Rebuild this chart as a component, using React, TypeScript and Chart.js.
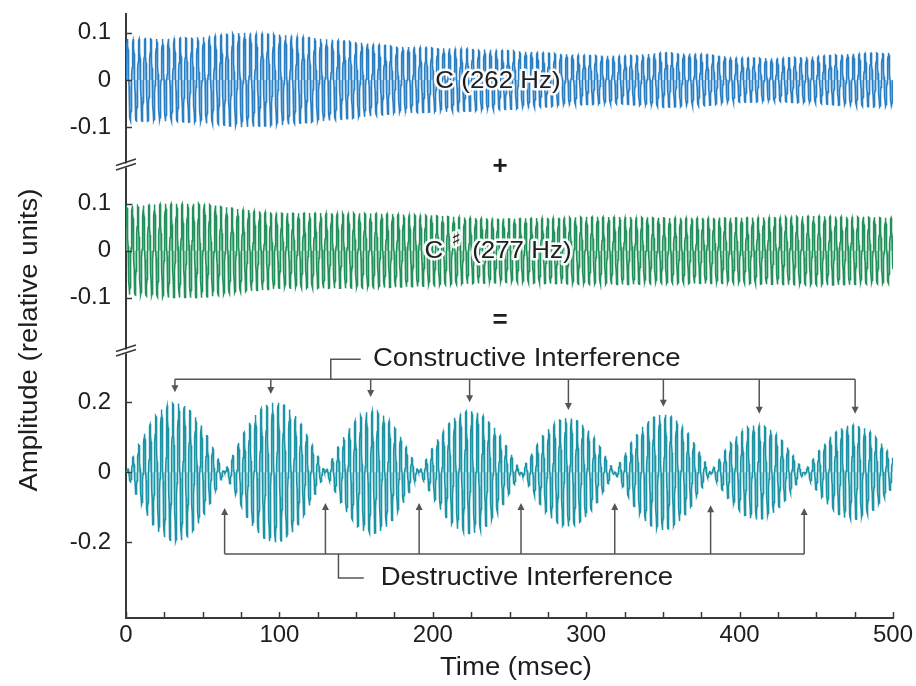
import React, { useEffect, useRef } from 'react';
import { Chart, registerables } from 'chart.js';

Chart.register(...registerables);

// ---------------- data ----------------
const X_TICK_LABELS = [0, 100, 200, 300, 400, 500];
const X_MINOR_TICKS = [0, 25, 50, 75, 100, 125, 150, 175, 200, 225, 250, 275, 300, 325, 350, 375, 400, 425, 450, 475, 500];

const TONE_Y_TICKS = [-0.1, 0, 0.1];
const SUM_Y_TICKS = [-0.2, 0, 0.2];

// envelope sample times (msec)
const ENVELOPE_TIMES = [0, 25, 50, 75, 100, 125, 150, 175, 200, 225, 250, 275, 300, 325, 350, 375, 400, 425, 450, 475, 500];
// C (262 Hz) amplitude envelope
const C_FREQ_HZ = 262;
const C_ENVELOPE = [0.087, 0.087, 0.091, 0.1, 0.096, 0.088, 0.08, 0.071, 0.068, 0.066, 0.062, 0.057, 0.052, 0.051, 0.058, 0.055, 0.047, 0.046, 0.05, 0.056, 0.058];
// C# (277 Hz) amplitude envelope
const CS_FREQ_HZ = 277;
const CS_ENVELOPE = [0.093, 0.1, 0.1, 0.088, 0.08, 0.08, 0.08, 0.078, 0.075, 0.07, 0.068, 0.07, 0.072, 0.072, 0.07, 0.07, 0.07, 0.072, 0.074, 0.072, 0.07];
// sum: beat nodes (destructive points, msec) and lobe peak amplitudes
const BEAT_NODES = [0, 64.3, 130.0, 191.1, 257.5, 318.6, 381.1, 442.1, 506];
const BEAT_PEAKS = [0.198, 0.2, 0.175, 0.175, 0.155, 0.165, 0.135, 0.135];

// annotation positions (msec / amplitude on the sum axis)
const CONSTRUCTIVE_TIMES = [31.9, 94.4, 159.5, 224.0, 288.4, 350.3, 412.8, 475.3];
const CONSTRUCTIVE_TIPS = [0.229, 0.224, 0.215, 0.2, 0.178, 0.187, 0.167, 0.167];
const DESTRUCTIVE_TIMES = [64.3, 130.0, 191.1, 257.5, 318.6, 381.1, 442.1];
const DESTRUCTIVE_TIPS = [-0.102, -0.088, -0.088, -0.088, -0.088, -0.094, -0.102];

// ---------------- series construction ----------------
const SAMPLE_STEP = 0.1;
const N_SAMPLES = 5000;

function envAt(times: number[], amps: number[], t: number) {
  for (let i = 0; i < times.length - 1; i++) {
    if (t <= times[i + 1]) {
      const f = (t - times[i]) / (times[i + 1] - times[i]);
      return amps[i] + (amps[i + 1] - amps[i]) * f;
    }
  }
  return amps[amps.length - 1];
}

function toneSeries(freq: number, amps: number[], phase: number) {
  const pts: { x: number; y: number }[] = [];
  for (let i = 0; i <= N_SAMPLES; i++) {
    const t = i * SAMPLE_STEP;
    pts.push({ x: t, y: envAt(ENVELOPE_TIMES, amps, t) * Math.sin((2 * Math.PI * freq * t) / 1000 + phase) });
  }
  return pts;
}

function beatSeries() {
  const fc = (C_FREQ_HZ + CS_FREQ_HZ) / 2;
  const pts: { x: number; y: number }[] = [];
  for (let i = 0; i <= N_SAMPLES; i++) {
    const t = i * SAMPLE_STEP;
    let k = 0;
    while (k < BEAT_NODES.length - 2 && t > BEAT_NODES[k + 1]) k++;
    const a = BEAT_NODES[k];
    const b = BEAT_NODES[k + 1];
    const env = BEAT_PEAKS[k] * Math.sin((Math.PI * (t - a)) / (b - a));
    const sign = k % 2 === 0 ? 1 : -1;
    pts.push({ x: t, y: sign * env * Math.sin((2 * Math.PI * fc * t) / 1000) });
  }
  return pts;
}

// ---------------- styling ----------------
const AXIS_COLOR = '#383838';
const TEXT_COLOR = '#1e1e1e';
const NOTE_COLOR = '#555555';
const FONT = '"Liberation Sans", Arial, Helvetica, sans-serif';

function drawLabel(ctx: CanvasRenderingContext2D, text: string, x: number, y: number, size: number, opts: any = {}) {
  ctx.save();
  ctx.translate(x, y);
  if (opts.rotate) ctx.rotate(opts.rotate);
  ctx.scale(opts.sx || 1, 1);
  ctx.font = `${opts.weight || 'normal'} ${size}px ${opts.family || FONT}`;
  ctx.textAlign = opts.align || 'center';
  ctx.textBaseline = 'middle';
  if (opts.halo) {
    ctx.lineJoin = 'round';
    ctx.lineWidth = 5;
    ctx.strokeStyle = 'rgba(255,255,255,0.95)';
    ctx.strokeText(text, 0, 0);
  }
  ctx.fillStyle = TEXT_COLOR;
  ctx.fillText(text, 0, 0);
  ctx.restore();
}

function line(ctx: CanvasRenderingContext2D, x1: number, y1: number, x2: number, y2: number) {
  ctx.beginPath();
  ctx.moveTo(x1, y1);
  ctx.lineTo(x2, y2);
  ctx.stroke();
}

function arrowHead(ctx: CanvasRenderingContext2D, x: number, tipY: number, dir: number) {
  ctx.beginPath();
  ctx.moveTo(x, tipY);
  ctx.lineTo(x - 3.5, tipY - dir * 7);
  ctx.lineTo(x + 3.5, tipY - dir * 7);
  ctx.closePath();
  ctx.fill();
}

const overlayPlugin = {
  id: 'overlay',
  afterDraw(chart: any) {
    const ctx: CanvasRenderingContext2D = chart.ctx;
    const x = chart.scales.x;
    const yTop = chart.scales.yTop;
    const yMid = chart.scales.yMid;
    const yBot = chart.scales.yBot;
    ctx.save();
    // tick marks (inside)
    ctx.strokeStyle = AXIS_COLOR;
    ctx.lineWidth = 1.5;
    for (const t of X_MINOR_TICKS) {
      const px = Math.round(x.getPixelForValue(t)) + 0.5;
      line(ctx, px, x.top, px, x.top - 6);
    }
    const yTicks: [any, number[]][] = [[yTop, TONE_Y_TICKS], [yMid, TONE_Y_TICKS], [yBot, SUM_Y_TICKS]];
    for (const [s, vals] of yTicks) {
      for (const v of vals) {
        const py = Math.round(s.getPixelForValue(v)) + 0.5;
        line(ctx, s.right, py, s.right + 6, py);
      }
    }
    // axis breaks
    for (const by of [yMid.top, yBot.top]) {
      const ax = yTop.right;
      ctx.fillStyle = '#ffffff';
      ctx.beginPath();
      ctx.moveTo(ax - 12, by + 2);
      ctx.lineTo(ax + 12, by - 5);
      ctx.lineTo(ax + 12, by - 1);
      ctx.lineTo(ax - 12, by + 6);
      ctx.closePath();
      ctx.fill();
      ctx.strokeStyle = AXIS_COLOR;
      ctx.lineWidth = 1.5;
      line(ctx, ax - 10, by + 0.5, ax + 10, by - 6);
      line(ctx, ax - 10, by + 5, ax + 10, by - 1.5);
    }

    // constructive bracket
    ctx.strokeStyle = NOTE_COLOR;
    ctx.fillStyle = NOTE_COLOR;
    ctx.lineWidth = 1.5;
    const cLineY = yBot.getPixelForValue(0.266);
    const cx0 = x.getPixelForValue(CONSTRUCTIVE_TIMES[0]);
    const cx1 = x.getPixelForValue(CONSTRUCTIVE_TIMES[CONSTRUCTIVE_TIMES.length - 1]);
    line(ctx, cx0, cLineY, cx1, cLineY);
    CONSTRUCTIVE_TIMES.forEach((t, i) => {
      const px = x.getPixelForValue(t);
      const tip = yBot.getPixelForValue(CONSTRUCTIVE_TIPS[i]);
      line(ctx, px, cLineY, px, tip - 5);
      arrowHead(ctx, px, tip, 1);
    });
    const cTextY = yBot.getPixelForValue(0.323);
    const cConnX = x.getPixelForValue(133.5);
    ctx.beginPath();
    ctx.moveTo(cConnX, cLineY);
    ctx.lineTo(cConnX, cTextY);
    ctx.lineTo(x.getPixelForValue(153), cTextY);
    ctx.stroke();
    drawLabel(ctx, 'Constructive Interference', x.getPixelForValue(161), cTextY, 25.5, { align: 'left', sx: 1.08 });

    // destructive bracket
    const dLineY = yBot.getPixelForValue(-0.2334);
    const dx0 = x.getPixelForValue(DESTRUCTIVE_TIMES[0]);
    const dx1 = x.getPixelForValue(DESTRUCTIVE_TIMES[DESTRUCTIVE_TIMES.length - 1]);
    line(ctx, dx0, dLineY, dx1, dLineY);
    DESTRUCTIVE_TIMES.forEach((t, i) => {
      const px = x.getPixelForValue(t);
      const tip = yBot.getPixelForValue(DESTRUCTIVE_TIPS[i]);
      line(ctx, px, dLineY, px, tip + 5);
      arrowHead(ctx, px, tip, -1);
    });
    const dTextY = yBot.getPixelForValue(-0.302);
    const dConnX = x.getPixelForValue(138.5);
    ctx.beginPath();
    ctx.moveTo(dConnX, dLineY);
    ctx.lineTo(dConnX, dTextY);
    ctx.lineTo(x.getPixelForValue(155), dTextY);
    ctx.stroke();
    drawLabel(ctx, 'Destructive Interference', x.getPixelForValue(166), dTextY, 25.5, { align: 'left', sx: 1.08 });

    // tone labels
    const labelX = x.getPixelForValue(242.5);
    drawLabel(ctx, 'C (262 Hz)', labelX, yTop.getPixelForValue(-0.002), 24, { sx: 1.08, halo: true });

    // C# label
    ctx.save();
    const sy = yMid.getPixelForValue(-0.002);
    ctx.font = `normal 24px ${FONT}`;
    const wC = ctx.measureText('C').width * 1.08;
    const wRest = ctx.measureText('(277 Hz)').width * 1.08;
    const total = wC + 29 + wRest;
    const start = labelX - total / 2;
    ctx.restore();
    drawLabel(ctx, 'C', start, sy, 24, { align: 'left', sx: 1.08, halo: true });
    drawLabel(ctx, '\u266F', start + wC + 13, sy - 11, 20, { sx: 1.0, halo: true, family: '"DejaVu Sans", sans-serif' });
    drawLabel(ctx, '(277 Hz)', start + wC + 29, sy, 24, { align: 'left', sx: 1.08, halo: true });

    // + and =
    drawLabel(ctx, '+', labelX + 2, yMid.top + 2, 26, { weight: 'bold' });
    drawLabel(ctx, '=', labelX + 2, yMid.getPixelForValue(-0.149), 26, { weight: 'bold' });

    // axis titles
    drawLabel(ctx, 'Time (msec)', 516, 668, 25.5, { sx: 1.08 });
    drawLabel(ctx, 'Amplitude (relative units)', 30, 340, 25.5, { sx: 1.08, rotate: -Math.PI / 2 });
    ctx.restore();
  },
};

function yAxis(min: number, max: number, ticks: number[], weight: number, stackWeight: number) {
  return {
    type: 'linear',
    position: 'left',
    stack: 'amp',
    stackWeight,
    weight,
    min,
    max,
    grid: { display: false, drawTicks: false },
    border: { display: true, color: AXIS_COLOR, width: 2 },
    afterBuildTicks: (s: any) => {
      s.ticks = ticks.map((v) => ({ value: v }));
    },
    afterFit: (s: any) => {
      s.width = 126;
      s.paddingTop = 0;
      s.paddingBottom = 0;
    },
    ticks: {
      autoSkip: false,
      padding: 15,
      color: TEXT_COLOR,
      font: { family: FONT, size: 24 },
      callback: (v: number) => (v === 0 ? '0' : String(v)),
    },
  };
}

function waveDataset(data: any[], axis: string, stroke: string, fillColor: string) {
  return {
    data,
    yAxisID: axis,
    borderColor: stroke,
    backgroundColor: fillColor,
    fill: 'origin',
    borderWidth: 1.5,
    pointRadius: 0,
    tension: 0,
  };
}

export default function App() {
  const ref = useRef<HTMLCanvasElement>(null);
  useEffect(() => {
    const chart = new Chart(ref.current as HTMLCanvasElement, {
      type: 'line',
      data: {
        datasets: [
          waveDataset(toneSeries(C_FREQ_HZ, C_ENVELOPE, 0), 'yTop', '#2a7fc3', 'rgba(120,182,232,0.75)'),
          waveDataset(toneSeries(CS_FREQ_HZ, CS_ENVELOPE, 0.6), 'yMid', '#21905a', 'rgba(112,198,148,0.75)'),
          waveDataset(beatSeries(), 'yBot', '#1d94a5', 'rgba(112,200,212,0.75)'),
        ],
      } as any,
      options: {
        animation: false,
        responsive: false,
        maintainAspectRatio: false,
        normalized: true,
        events: [],
        layout: { padding: { top: 14, right: 23, bottom: 0, left: 0 } },
        plugins: { legend: { display: false }, tooltip: { enabled: false }, filler: { propagate: false } },
        scales: {
          x: {
            type: 'linear',
            position: 'bottom',
            min: 0,
            max: 500,
            grid: { display: false, drawTicks: false },
            border: { display: true, color: AXIS_COLOR, width: 2 },
            afterBuildTicks: (s: any) => {
              s.ticks = X_TICK_LABELS.map((v) => ({ value: v }));
            },
            afterFit: (s: any) => {
              s.height = 68;
              s.paddingLeft = 0;
              s.paddingRight = 0;
            },
            ticks: {
              autoSkip: false,
              maxRotation: 0,
              padding: 3,
              color: TEXT_COLOR,
              font: { family: FONT, size: 24 },
            },
          },
          yBot: yAxis(-0.4163, 0.3466, SUM_Y_TICKS, 1, 267),
          yMid: yAxis(-0.2134, 0.1823, TONE_Y_TICKS, 2, 186),
          yTop: yAxis(-0.1797, 0.1395, TONE_Y_TICKS, 3, 151),
        } as any,
      },
      plugins: [overlayPlugin],
    });
    return () => chart.destroy();
  }, []);
  return (
    <div style={{ position: 'absolute', left: 0, top: 0, width: 916, height: 686, background: '#ffffff' }}>
      <canvas ref={ref} width={916} height={686} style={{ display: 'block', width: 916, height: 686 }} />
    </div>
  );
}
